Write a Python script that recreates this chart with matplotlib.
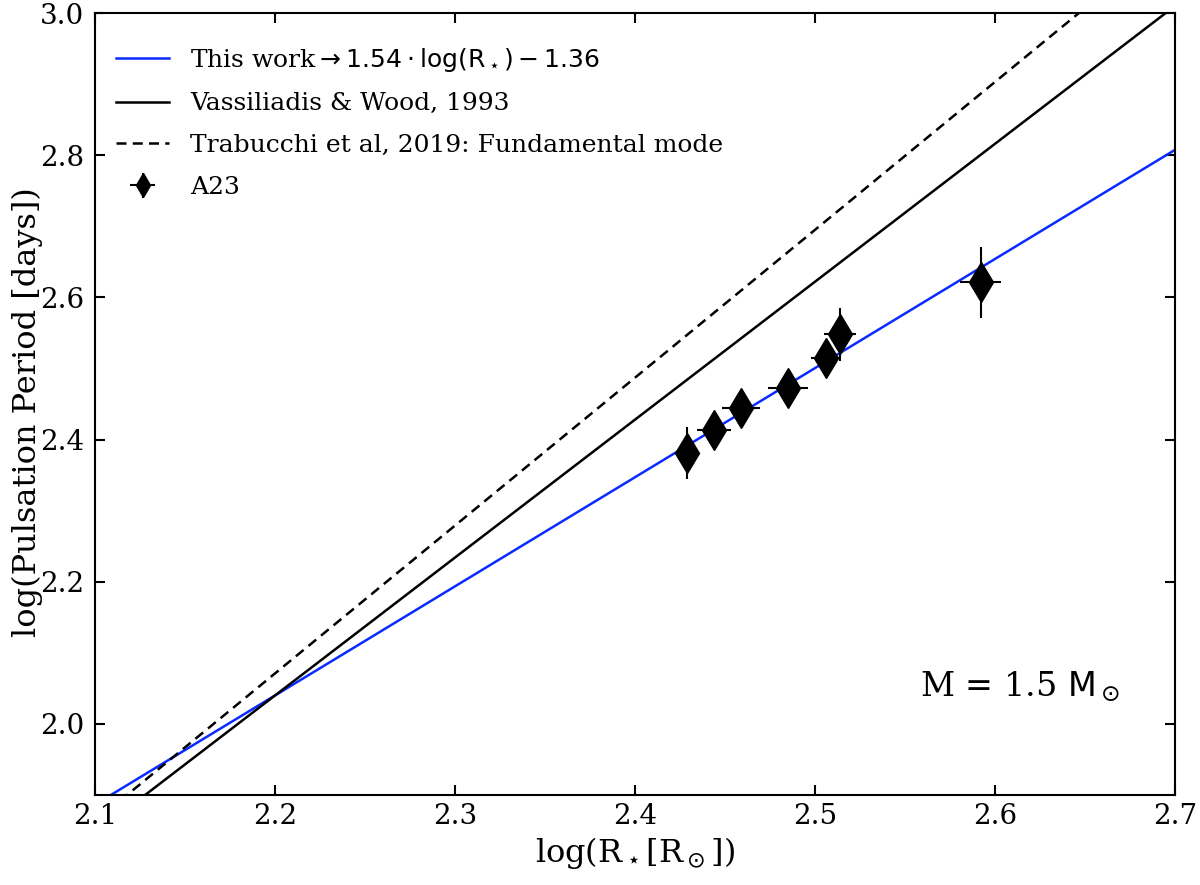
import numpy as np
import matplotlib
matplotlib.use("Agg")
import matplotlib.pyplot as plt

# data
log_r = [2.429, 2.444, 2.459, 2.485, 2.506, 2.514, 2.592]
log_p = [2.381, 2.413, 2.444, 2.473, 2.515, 2.548, 2.621]
x_err = [0.005, 0.0095, 0.0105, 0.011, 0.008, 0.009, 0.0115]
y_err = [0.037, 0.010, 0.010, 0.010, 0.010, 0.037, 0.050]

# linear relations (slope, intercept)
this_work = (1.535, -1.337)
vw93 = (1.94, -2.228)
trab19 = (2.08, -2.505)

x_ticks = [2.1, 2.2, 2.3, 2.4, 2.5, 2.6, 2.7]
y_ticks = [2.0, 2.2, 2.4, 2.6, 2.8, 3.0]

plt.rcParams['font.family'] = ['DejaVu Serif']
plt.rcParams['mathtext.fontset'] = 'dejavusans'

fig = plt.figure(figsize=(12, 8.85), dpi=100)
ax = fig.add_axes([95/1200, 1-795/885, 1080/1200, 782/885])

xs = np.array([2.1, 2.7])
ax.plot(xs, this_work[0]*xs + this_work[1], color='#0a2bff', lw=1.8,
        label=r'This work$\rightarrow 1.54\cdot\log(\mathrm{R}_\star) - 1.36$')
ax.plot(xs, vw93[0]*xs + vw93[1], color='black', lw=1.8,
        label='Vassiliadis & Wood, 1993')
ax.plot(xs, trab19[0]*xs + trab19[1], color='black', lw=1.8, ls='--',
        dashes=(4, 2.5), label='Trabucchi et al, 2019: Fundamental mode')
ax.errorbar(log_r, log_p, xerr=x_err, yerr=y_err, fmt='d', color='black',
            ms=20, elinewidth=1.5, capsize=0, label='A23', zorder=5)

ax.set_xlim(2.1, 2.7)
ax.set_ylim(1.9, 3.0)
ax.set_xticks(x_ticks)
ax.set_yticks(y_ticks)
ax.set_xticklabels([f'{v:.1f}' for v in x_ticks])
ax.set_yticklabels([f'{v:.1f}' for v in y_ticks])
ax.tick_params(direction='in', top=True, right=True, length=7, width=1.5,
               labelsize=20, pad=8)
ax.tick_params(axis='x', pad=6)
for s in ax.spines.values():
    s.set_linewidth(1.5)

ax.set_xlabel(r'log(R$_\star$[R$_\odot$])', fontsize=23)
ax.set_ylabel('log(Pulsation Period [days])', fontsize=23)
ax.xaxis.set_label_coords(0.5, -40/782)
ax.yaxis.set_label_coords(-52/1080, 0.49)

ax.text(0.949, 0.138, r'M = 1.5 $\mathrm{M}_\odot$', transform=ax.transAxes,
        fontsize=24, ha='right', va='center')

leg = ax.legend(loc='upper left', bbox_to_anchor=(0.0106, 0.971),
                frameon=False, fontsize=18, borderaxespad=0,
                handlelength=2.1, labelspacing=0.75,
                handletextpad=0.85, markerscale=0.6)

fig.savefig('out.png', dpi=100)
